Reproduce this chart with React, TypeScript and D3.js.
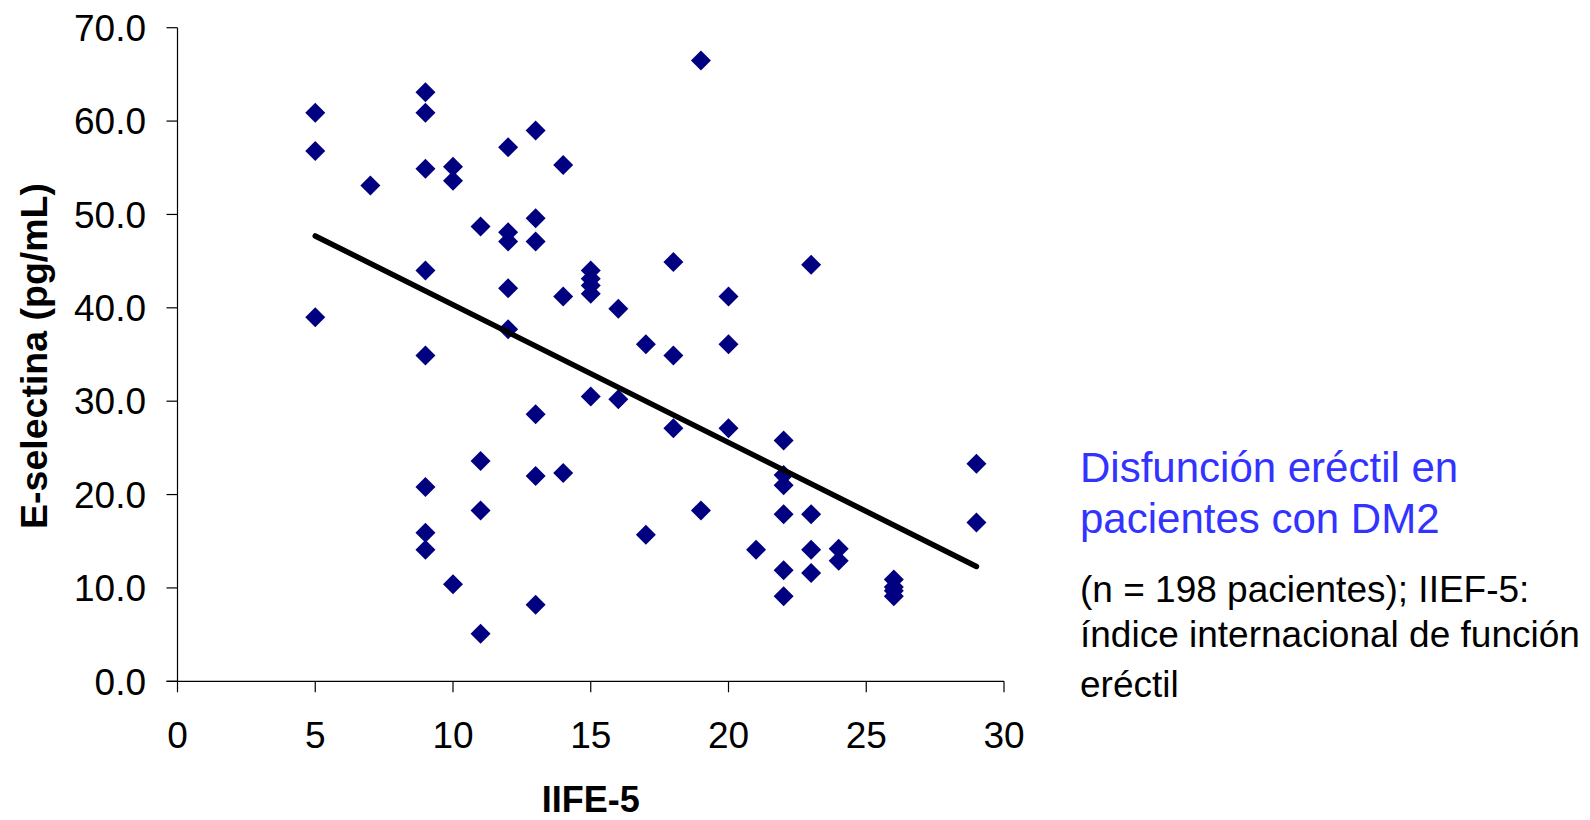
import React from "react";
import * as d3 from "d3";

// IIEF-5 score of each patient and the matching E-selectin level (pg/mL)
const iiefScores = [
  5, 5, 5,
  7,
  9, 9, 9, 9, 9, 9, 9, 9,
  10, 10, 10,
  11, 11, 11, 11,
  12, 12, 12, 12, 12,
  13, 13, 13, 13, 13, 13,
  14, 14, 14,
  15, 15, 15, 15, 15,
  16, 16,
  17, 17,
  18, 18, 18,
  19, 19,
  20, 20, 20,
  21,
  22, 22, 22, 22, 22, 22,
  23, 23, 23, 23,
  24, 24,
  26, 26, 26, 26,
  29, 29,
];
const eSelectin = [
  60.9, 56.8, 39.0,
  53.1,
  63.1, 60.9, 54.9, 44.0, 34.9, 20.8, 15.9, 14.1,
  55.1, 53.6, 10.4,
  48.7, 23.6, 18.3, 5.1,
  57.2, 48.1, 47.1, 42.1, 37.7,
  59.0, 49.6, 47.1, 28.6, 22.0, 8.2,
  55.3, 41.2, 22.3,
  44.0, 43.1, 42.4, 41.5, 30.5,
  39.9, 30.2,
  36.1, 15.7,
  44.9, 34.9, 27.1,
  66.5, 18.3,
  41.2, 36.1, 27.1,
  14.1,
  25.8, 22.1, 21.0, 17.9, 11.9, 9.1,
  44.6, 17.9, 14.1, 11.6,
  14.2, 12.9,
  10.9, 10.1, 9.7, 9.1,
  23.3, 17.0,
];

// Linear trend line end points
const trendX = [5, 29];
const trendY = [47.7, 12.3];

const xTicks = [0, 5, 10, 15, 20, 25, 30];
const yTicks = [0, 10, 20, 30, 40, 50, 60, 70];

const titleLines = ["Disfunción eréctil en", "pacientes con DM2"];
const noteLines = [
  "(n = 198 pacientes); IIEF-5:",
  "índice internacional de función",
  "eréctil",
];

const FONT = "'Liberation Sans', Arial, Helvetica, sans-serif";

export default function App() {
  const width = 1590;
  const height = 820;
  const x = d3.scaleLinear().domain([0, 30]).range([177.5, 1004]);
  const y = d3.scaleLinear().domain([0, 70]).range([681.3, 27.7]);
  const diamond = d3.symbol().type(d3.symbolSquare).size(200)() as string;
  const trend = d3.line<number>()
    .x((_, i) => x(trendX[i]))
    .y((d) => y(d))(trendY) as string;

  return (
    <svg
      width={width}
      height={height}
      style={{ position: "absolute", left: 0, top: 0, background: "#fff" }}
      fontFamily={FONT}
    >
      {/* axes */}
      <line x1={x(0)} x2={x(0)} y1={y(70)} y2={y(0)} stroke="#000" strokeWidth={1.2} />
      <line x1={x(0) - 11} x2={x(30)} y1={y(0)} y2={y(0)} stroke="#000" strokeWidth={1.2} />
      {yTicks.map((t) => (
        <g key={"y" + t}>
          <line x1={x(0) - 11} x2={x(0)} y1={y(t)} y2={y(t)} stroke="#000" strokeWidth={1.2} />
          <text x={146} y={y(t) + 13.3} textAnchor="end" fontSize={37} fill="#000">
            {d3.format(".1f")(t)}
          </text>
        </g>
      ))}
      {xTicks.map((t) => (
        <g key={"x" + t}>
          <line x1={x(t)} x2={x(t)} y1={y(0)} y2={y(0) + 11} stroke="#000" strokeWidth={1.2} />
          <text x={x(t)} y={748} textAnchor="middle" fontSize={37} fill="#000">
            {t}
          </text>
        </g>
      ))}

      {/* axis titles */}
      <text x={x(15)} y={812} textAnchor="middle" fontSize={36} fontWeight="bold" fill="#000">
        IIFE-5
      </text>
      <text
        transform={`translate(46.5, 356) rotate(-90)`}
        textAnchor="middle"
        fontSize={37.5}
        fontWeight="bold"
        fill="#000"
      >
        E-selectina (pg/mL)
      </text>

      {/* points */}
      {iiefScores.map((v, i) => (
        <path
          key={"p" + i}
          d={diamond}
          transform={`translate(${x(v)},${y(eSelectin[i])}) rotate(45)`}
          fill="#000080"
        />
      ))}

      {/* trend line */}
      <path d={trend} fill="none" stroke="#000" strokeWidth={5.5} strokeLinecap="round" />

      {/* side notes */}
      {titleLines.map((s, i) => (
        <text key={"t" + i} x={1080} y={482.3 + i * 51} fontSize={42} fill="#3333ff">
          {s}
        </text>
      ))}
      {noteLines.map((s, i) => (
        <text key={"n" + i} x={1080} y={[601.7, 646.7, 696.7][i]} fontSize={37} fill="#000">
          {s}
        </text>
      ))}
    </svg>
  );
}
